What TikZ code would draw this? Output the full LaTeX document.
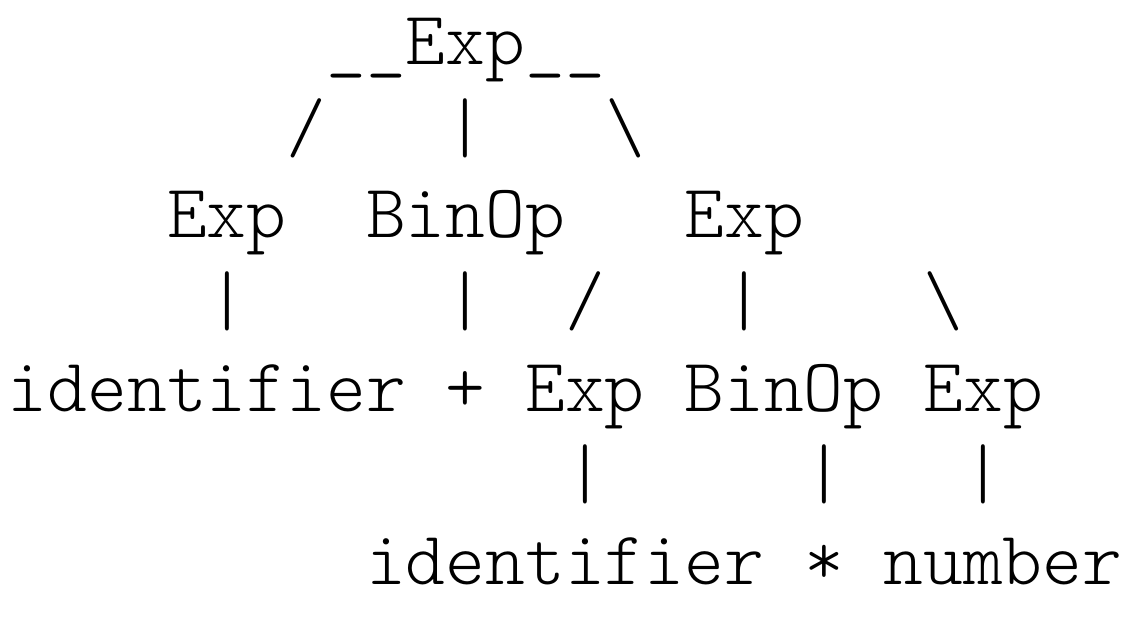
\documentclass[tikz,border=0pt]{standalone}
\usepackage{fontspec}
\setmonofont{Latin Modern Mono Light}
\usepackage{tikz}

\begin{document}
\begin{tikzpicture}[
    x=39.8pt, y=86.5pt,
    tok/.style={anchor=base west, inner sep=0pt, outer sep=0pt,
                font=\fontsize{75.8}{86.5}\selectfont\ttfamily}
  ]
    \useasboundingbox (-8pt,65pt) rectangle (1124pt,-563pt);

    % top level
    \node[tok] (root) at (8,0) {\_\_Exp\_\_};
    \node[tok] (l1a) at (7,-1) {/};
    \node[tok] (l1b) at (11,-1) {|};
    \node[tok] (l1c) at (15,-1) {\textbackslash};

    \node[tok] (lexp) at (4,-2) {Exp};
    \node[tok] (lop) at (9,-2) {BinOp};
    \node[tok] (rexp) at (17,-2) {Exp};

    \node[tok] (l3a) at (5,-3) {|};
    \node[tok] (l3b) at (11,-3) {|};
    \node[tok] (l3c) at (14,-3) {/};
    \node[tok] (l3d) at (18,-3) {|};
    \node[tok] (l3e) at (23,-3) {\textbackslash};

    % second level
    \node[tok] (id1) at (0,-4) {identifier};
    \node[tok] (plus) at (11,-4) {+};
    \node[tok] (rlexp) at (13,-4) {Exp};
    \node[tok] (rop) at (17,-4) {BinOp};
    \node[tok] (rrexp) at (23,-4) {Exp};

    \node[tok] (l5a) at (14,-5) {|};
    \node[tok] (l5b) at (20,-5) {|};
    \node[tok] (l5c) at (24,-5) {|};

    \node[tok] (id2) at (9,-6) {identifier};
    \node[tok] (times) at (20,-6) {*};
    \node[tok] (num) at (22,-6) {number};
  \end{tikzpicture}
\end{document}
